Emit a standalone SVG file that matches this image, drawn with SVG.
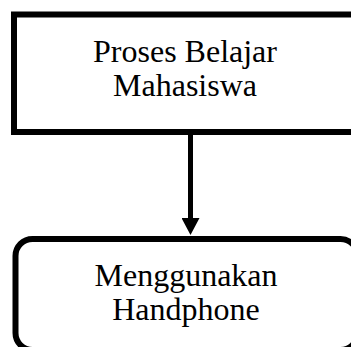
<svg xmlns="http://www.w3.org/2000/svg" width="351" height="347" viewBox="0 0 351 347">
<style>
.box{fill:#fff;stroke:#000;stroke-width:6}
.t{font-family:"Liberation Serif","Times New Roman",serif;font-size:32px;fill:#000;text-anchor:middle}
.c{stroke:#000;stroke-width:5;fill:none}
</style>
<defs>
<marker id="ah" markerUnits="userSpaceOnUse" markerWidth="17" markerHeight="18" refX="0" refY="9" orient="auto" viewBox="0 0 17 18">
<path d="M0,0 L17,9 L0,18 Z" fill="#000"/>
</marker>
</defs>
<rect width="351" height="347" fill="#fff"/>
<g id="n1">
<rect class="box" x="14" y="14.5" width="340" height="117.5"/>
<text class="t" x="185" y="62">Proses Belajar</text>
<text class="t" x="185" y="96">Mahasiswa</text>
</g>
<g id="n2">
<rect class="box" x="15.5" y="239" width="342" height="111" rx="17" ry="17"/>
<text class="t" x="186" y="286">Menggunakan</text>
<text class="t" x="186" y="320">Handphone</text>
</g>
<g id="connectors">
<line class="c" x1="190.5" y1="135" x2="190.5" y2="218" marker-end="url(#ah)"/>
</g>
</svg>
